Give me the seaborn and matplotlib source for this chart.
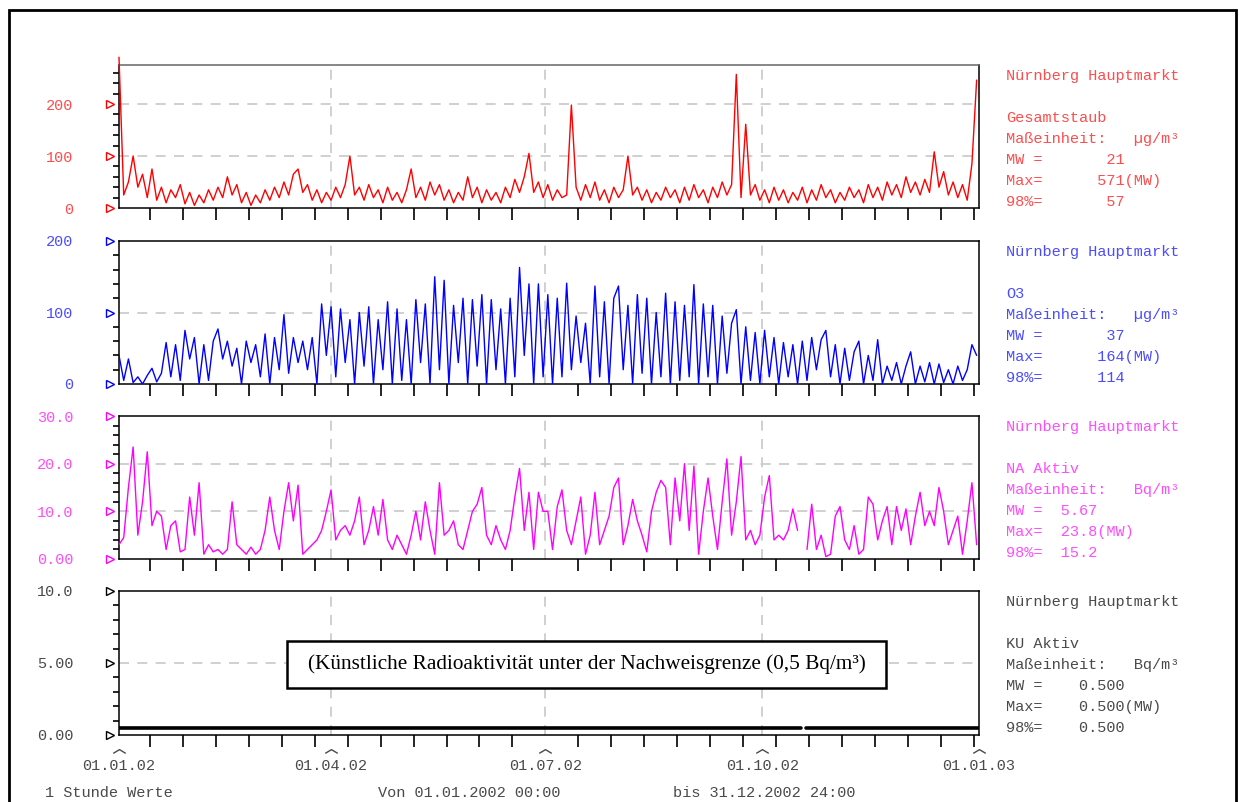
import numpy as np
import pandas as pd
import matplotlib
matplotlib.use("Agg")
import matplotlib.pyplot as plt
import matplotlib.dates as mdates
from matplotlib.patches import Rectangle
import seaborn as sns

# --- Daten (Stützstellen alle 2 Tage ab 01.01.2002) ---
staub = [
    290, 25, 50, 100, 40, 65, 20, 75, 15, 40,
    10, 35, 20, 45, 8, 30, 5, 25, 10, 35,
    15, 40, 20, 60, 25, 45, 10, 30, 5, 25,
    10, 35, 15, 40, 20, 50, 25, 65, 75, 30,
    45, 15, 35, 10, 30, 15, 40, 20, 45, 100,
    25, 40, 15, 45, 20, 35, 10, 40, 15, 30,
    10, 35, 75, 20, 40, 15, 50, 25, 45, 15,
    35, 10, 30, 15, 60, 20, 40, 10, 35, 15,
    30, 10, 40, 20, 55, 30, 60, 105, 30, 50,
    20, 45, 15, 35, 20, 25, 198, 40, 15, 45,
    20, 50, 15, 35, 10, 40, 20, 35, 100, 25,
    40, 15, 35, 10, 30, 15, 40, 20, 35, 10,
    40, 15, 45, 20, 35, 10, 40, 20, 50, 25,
    45, 257, 20, 161, 25, 45, 15, 35, 10, 40,
    15, 35, 10, 30, 15, 40, 10, 35, 15, 45,
    20, 35, 10, 30, 15, 40, 20, 35, 10, 45,
    20, 40, 15, 50, 25, 45, 20, 60, 30, 50,
    25, 55, 30, 108, 40, 70, 25, 50, 20, 45,
    15, 85, 246,
]
o3 = [
    40, 5, 35, 2, 10, 0, 12, 22, 3, 15,
    58, 10, 55, 5, 75, 35, 65, 0, 55, 5,
    60, 77, 35, 60, 25, 50, 0, 60, 30, 55,
    10, 70, 0, 65, 20, 97, 15, 65, 30, 60,
    20, 65, 0, 112, 40, 108, 10, 105, 30, 90,
    0, 100, 25, 108, 0, 90, 20, 115, 0, 105,
    5, 90, 0, 118, 30, 112, 0, 150, 20, 145,
    0, 110, 30, 120, 0, 118, 25, 125, 0, 118,
    20, 105, 0, 120, 10, 163, 40, 140, 0, 140,
    10, 125, 0, 120, 10, 141, 20, 95, 30, 85,
    0, 137, 10, 115, 0, 120, 137, 20, 110, 0,
    125, 15, 120, 0, 100, 10, 127, 0, 115, 5,
    110, 10, 139, 0, 112, 10, 110, 0, 95, 15,
    85, 104, 0, 80, 5, 72, 0, 75, 10, 65,
    0, 58, 10, 55, 0, 60, 5, 65, 20, 62,
    75, 10, 55, 0, 50, 5, 45, 60, 0, 40,
    5, 62, 0, 25, 5, 30, 0, 25, 45, 0,
    25, 3, 30, 0, 28, 2, 20, 0, 25, 5,
    20, 55, 40,
]
na_aktiv = [
    3, 4.5, 15, 23.5, 5, 12, 22.5, 7, 10, 9,
    2, 7, 8, 1.5, 2, 13, 5, 16, 1, 3,
    1.5, 2, 1, 2, 12, 3, 2, 1, 2.5, 1,
    2, 6, 13, 6, 2, 10, 16, 8, 15.5, 1,
    2, 3, 4, 6, 10, 14.5, 4, 6, 7, 5,
    8, 13, 3, 6, 11, 5, 12.5, 4, 2, 5,
    3, 1, 5, 10, 4, 12, 6, 1, 16, 5,
    6, 8, 3, 2, 6, 10, 11.5, 15, 5, 3,
    7, 4, 2, 6, 13, 19, 6, 14, 2, 14,
    10, 10, 2, 11, 14.5, 6, 3, 8, 13, 1,
    5, 14, 3, 6, 9, 15, 17, 3, 7, 12.5,
    8, 5, 1.5, 10, 14, 16.5, 15, 3, 17, 8,
    20, 6, 19.5, 1, 10, 17, 9, 2, 12, 21,
    5, 12, 21.5, 4, 6, 3, 5, 13, 17.5, 4,
    5, 4, 6, 10.5, 6, np.nan, 2, 11.5, 2, 5,
    0.5, 1, 9, 11, 4, 2, 7, 1, 2, 13,
    11.5, 4, 8, 11, 3, 11, 6, 10.5, 3, 9,
    14, 7, 10, 7, 15, 10, 3, 6, 9, 1,
    8, 16, 3,
]
# KU Aktiv: konstant an der Nachweisgrenze, Lücke im Oktober
ku_zeit = ["2002-01-01 00:00", "2002-10-17 12:00", "2002-10-19 14:00", "2003-01-01 00:00"]
ku_werte = [0.5, 0.5, 0.5, 0.5]
ku_abschnitt = [0, 0, 1, 1]

quartal = ["2002-01-01", "2002-04-01", "2002-07-01", "2002-10-01", "2003-01-01"]
quartal_labels = ["01.01.02", "01.04.02", "01.07.02", "01.10.02", "01.01.03"]

infos = [
    ["Nürnberg Hauptmarkt", "", "Gesamtstaub", "Maßeinheit:   µg/m³",
     "MW =       21", "Max=      571(MW)", "98%=       57"],
    ["Nürnberg Hauptmarkt", "", "O3", "Maßeinheit:   µg/m³",
     "MW =       37", "Max=      164(MW)", "98%=      114"],
    ["Nürnberg Hauptmarkt", "", "NA Aktiv", "Maßeinheit:   Bq/m³",
     "MW =  5.67", "Max=  23.8(MW)", "98%=  15.2"],
    ["Nürnberg Hauptmarkt", "", "KU Aktiv", "Maßeinheit:   Bq/m³",
     "MW =    0.500", "Max=    0.500(MW)", "98%=    0.500"],
]

# --- Stil ---
sns.set_theme(style="white")
plt.rcParams['font.family'] = ['Liberation Mono', 'DejaVu Sans Mono']
plt.rcParams['font.size'] = 11

W, H = 1239, 802
fig = plt.figure(figsize=(W / 100, H / 100), dpi=100)

zeit = pd.date_range("2002-01-01", periods=len(staub), freq="2D")


def series_df(werte):
    df = pd.DataFrame({"zeit": zeit, "wert": werte})
    df["abschnitt"] = df["wert"].isna().cumsum()
    return df.dropna()


panels = [
    # (top px, bottom px, df, ylim, majors, labels, minor step, color, textcolor)
    (65, 208, series_df(staub), (0, 275), [0, 100, 200], ["0", "100", "200"], 20, "#ff0000", "#ff4c4c"),
    (241, 384, series_df(o3), (0, 200), [0, 100, 200], ["0", "100", "200"], 20, "#0000ff", "#4c4cff"),
    (416, 559, series_df(na_aktiv), (0, 30), [0, 10, 20, 30], ["0.00", "10.0", "20.0", "30.0"], 2, "#ff00ff", "#ff4cff"),
    (591, 735, pd.DataFrame({"zeit": pd.to_datetime(ku_zeit), "wert": ku_werte, "abschnitt": ku_abschnitt}),
     (0, 10), [0, 5, 10], ["0.00", "5.00", "10.0"], 1, "#000000", "#4a4a4a"),
]

x0, x1 = pd.Timestamp("2002-01-01"), pd.Timestamp("2003-01-01")
quartal_ts = pd.to_datetime(quartal)
zweiwochen = pd.date_range("2002-01-14", "2002-12-31", freq="14D")
grid_kw = dict(color="#c8c8c8", lw=1.2, ls=(0, (6, 5)), zorder=0)

axes = []
for i, (top, bot, df, ylim, majors, labels, step, color, tcolor) in enumerate(panels):
    ax = fig.add_axes([119 / W, 1 - bot / H, 860 / W, (bot - top) / H])
    axes.append(ax)
    lw = 2.6 if i == 3 else 1.0
    sns.lineplot(data=df, x="zeit", y="wert", units="abschnitt", estimator=None,
                 color=color, lw=lw, ax=ax, legend=False, zorder=3)
    if i == 0:
        for ln in ax.lines:
            ln.set_clip_on(False)

    ax.set_xlim(x0, x1)
    ax.set_ylim(*ylim)
    ax.set_xlabel("")
    ax.set_ylabel("")

    # Gitter
    for q in quartal_ts[1:-1]:
        ax.axvline(q, **grid_kw)
    for m in majors[1:]:
        if m < ylim[1]:
            ax.axhline(m, **grid_kw)

    # y-Achse
    ax.set_yticks(majors)
    ax.set_yticklabels(labels, color=tcolor)
    ax.set_yticks(np.arange(step, ylim[1] - 1e-9, step), minor=True)
    ax.tick_params(axis="y", which="major", length=0, pad=33, labelsize=11)
    ax.tick_params(axis="y", which="minor", length=4.5, width=1.2, color="black",
                   direction="out", left=True)
    ax.plot([-0.0105] * len(majors), majors, ls="none", marker=">", ms=5.5,
            mfc="none", mec=color, mew=1.0, transform=ax.get_yaxis_transform(),
            clip_on=False, zorder=5)

    # x-Achse
    ax.set_xticks(quartal_ts)
    ax.set_xticks(zweiwochen, minor=True)
    ax.tick_params(axis="x", which="minor", length=8.5, width=1.2, color="black",
                   direction="out", bottom=True)
    if i == 3:
        ax.set_xticklabels(quartal_labels, color="#4a4a4a")
        ax.tick_params(axis="x", which="major", length=0, pad=17, labelsize=11)
        ax.plot(mdates.date2num(quartal_ts), [-0.112] * len(quartal_ts), ls="none",
                marker=[(-1, -0.3), (0, 0.3), (1, -0.3)], ms=9, mfc="none",
                mec="#4a4a4a", mew=1.0, transform=ax.get_xaxis_transform(),
                clip_on=False)
    else:
        ax.set_xticklabels([])
        ax.tick_params(axis="x", which="major", length=0)

    for s in ax.spines.values():
        s.set_color("black")
        s.set_linewidth(1.1)
        s.set_visible(True)
    if i == 0:
        ax.spines["top"].set_color("#666666")

    # Infotext rechts
    for j, zeile in enumerate(infos[i]):
        fig.text(1006 / W, 1 - (top + 11 + j * 21) / H, zeile, color=tcolor,
                 ha="left", va="center", fontsize=11)

# Hinweis im KU-Panel
ax4 = axes[3]
ax4.add_patch(Rectangle((0.1953, 0.326), 0.6966, 0.327, transform=ax4.transAxes,
                        facecolor="white", edgecolor="black", lw=1.8, zorder=6))
ax4.text(0.5436, 0.49, "(Künstliche Radioaktivität unter der Nachweisgrenze (0,5 Bq/m³)",
         transform=ax4.transAxes, ha="center", va="center", fontsize=15.3,
         family=["Liberation Serif", "DejaVu Serif"], color="black", zorder=7)

# Fußzeile
fig.text(45 / W, 1 - 793 / H, "1 Stunde Werte", color="#4a4a4a", ha="left", va="center", fontsize=11)
fig.text(378 / W, 1 - 793 / H, "Von 01.01.2002 00:00", color="#4a4a4a", ha="left", va="center", fontsize=11)
fig.text(673 / W, 1 - 793 / H, "bis 31.12.2002 24:00", color="#4a4a4a", ha="left", va="center", fontsize=11)

# Rahmen
fig.add_artist(Rectangle((9 / W, -0.02), (1236 - 9) / W, 1 - 10 / H + 0.02,
                         transform=fig.transFigure, fill=False, edgecolor="black", lw=2))

fig.savefig("out.png", dpi=100)
